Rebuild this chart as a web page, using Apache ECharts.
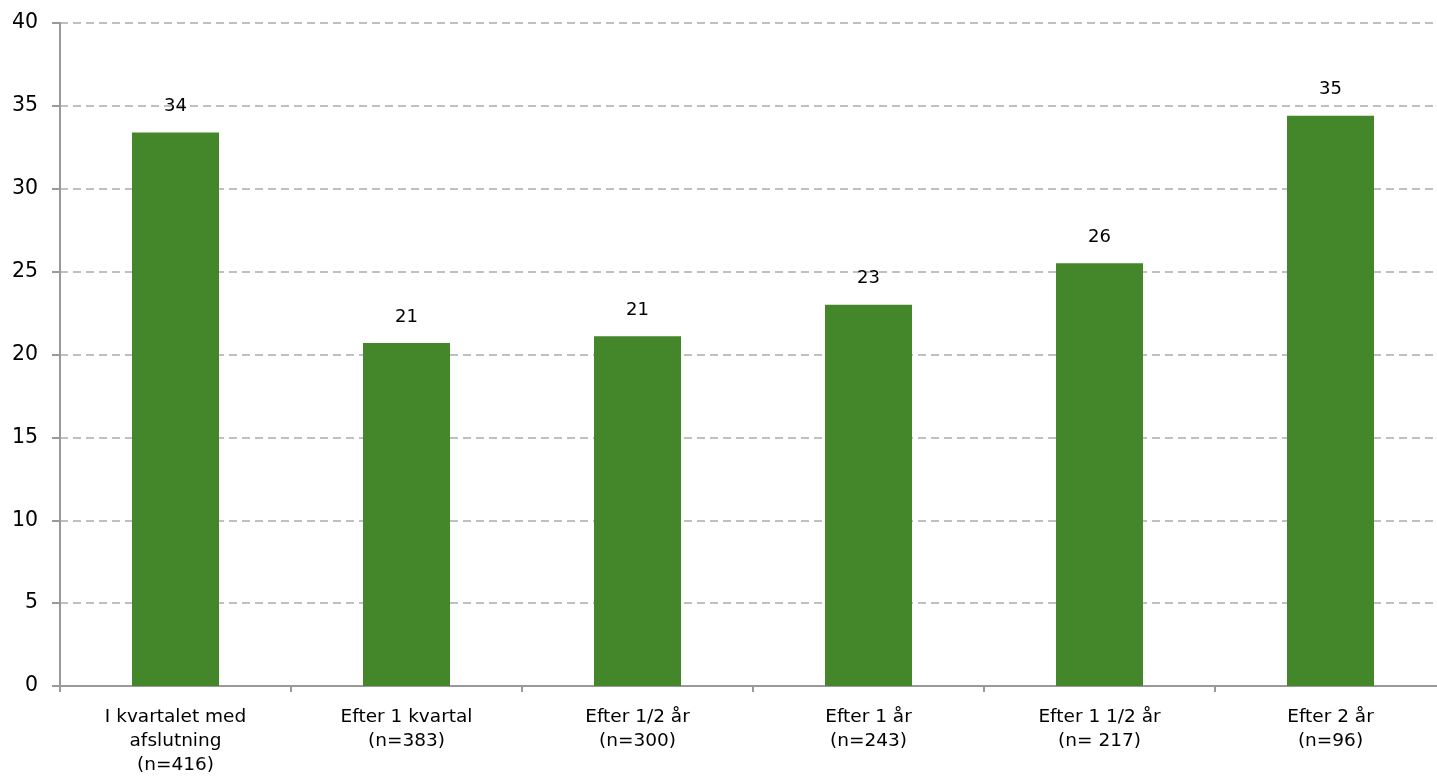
<!DOCTYPE html>
<html>
<head>
<meta charset="utf-8">
<script src="https://cdn.jsdelivr.net/npm/echarts@6/dist/echarts.min.js"></script>
<style>
html,body{margin:0;padding:0;background:#fff;}
#chart{width:1437px;height:776px;}
</style>
</head>
<body>
<div id="chart"></div>
<script>
var categories=['I kvartalet med\nafslutning\n(n=416)','Efter 1 kvartal\n(n=383)','Efter 1/2 år\n(n=300)','Efter 1 år\n(n=243)','Efter 1 1/2 år\n(n= 217)','Efter 2 år\n(n=96)'];
var values=[33.4,20.7,21.1,23.0,25.5,34.4];
var labels=['34','21','21','23','26','35'];
var yTicks={min:0,max:40,interval:5};

var chart=echarts.init(document.getElementById('chart'));
var option={
    animation:false,
    textStyle:{fontFamily:'DejaVu Sans'},
    grid:{left:60,top:23,width:1386,height:663,outerBoundsMode:'none',containLabel:false},
    xAxis:{
        type:'category',
        data:categories,
        axisLine:{lineStyle:{color:'#999',width:2}},
        axisTick:{show:true,length:6,lineStyle:{color:'#999',width:2}},
        axisLabel:{color:'#000',fontSize:18.5,lineHeight:24,margin:19}
    },
    yAxis:{
        type:'value',
        min:yTicks.min,
        max:yTicks.max,
        interval:yTicks.interval,
        axisLine:{show:true,lineStyle:{color:'#999',width:2}},
        axisTick:{show:true,length:8,lineStyle:{color:'#999',width:2}},
        axisLabel:{color:'#000',fontSize:20.5,margin:22},
        splitLine:{lineStyle:{color:'#c0c0c0',type:[8,5],width:2}}
    },
    series:[{
        type:'bar',
        data:values,
        barWidth:87,
        itemStyle:{color:'#44862a'},
        label:{
            show:true,
            position:'top',
            distance:17,
            color:'#000',
            fontSize:18,
            formatter:function(p){return labels[p.dataIndex];}
        }
    }]
};
chart.setOption(option);
</script>
</body>
</html>
